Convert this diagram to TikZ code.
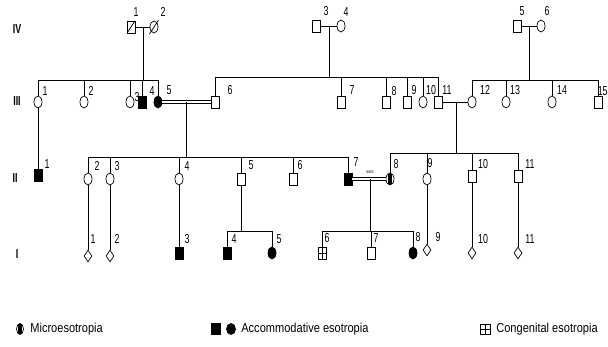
\documentclass[tikz,border=0pt]{standalone}
\usepackage{fontspec}
\setmainfont{Liberation Sans}[FakeStretch=0.85]
\newfontfamily\numfont{Liberation Sans}[FakeStretch=0.68]
\usetikzlibrary{shapes.geometric}
\begin{document}
\begin{tikzpicture}[x=1pt,y=-1pt, line width=0.7pt,
  male/.style={draw, rectangle, minimum width=8pt, minimum height=12pt, inner sep=0pt},
  female/.style={draw, ellipse, minimum width=8pt, minimum height=12pt, inner sep=0pt},
  unk/.style={draw, diamond, minimum width=8pt, minimum height=12pt, inner sep=0pt},
  aff/.style={fill=black},
  micro/.style={path picture={\fill[black] ([xshift=-1.6pt]path picture bounding box.south) rectangle ([xshift=1.6pt]path picture bounding box.north);}},
  cong/.style={path picture={\draw (path picture bounding box.north) -- (path picture bounding box.south) (path picture bounding box.west) -- (path picture bounding box.east);}},
  dec/.style={path picture={\draw (path picture bounding box.south west) -- (path picture bounding box.north east);}},
  lab/.style={font=\numfont\fontsize{13}{14}\selectfont, inner sep=0pt},
  gen/.style={font=\numfont\bfseries\fontsize{13}{14}\selectfont, inner sep=0pt},
  leg/.style={font=\fontsize{13}{14}\selectfont, inner sep=0pt, anchor=west},
  cons/.style={double, double distance=2.4pt, line width=0.7pt}]
\useasboundingbox (0,0) rectangle (608,347);

% generation labels
\node[gen] (gIV) at (17,29) {IV};
\node[gen] (gIII) at (17,101) {III};
\node[gen] (gII) at (15,178) {II};
\node[gen] (gI) at (17,254) {I};

% ---------- Generation IV ----------
\node[male, dec] (IV1) at (131,27) {};
\node[female] (IV2) at (154,27) {};
\draw ([shift={(-4.5,7)}]IV2.center) -- ([shift={(4.5,-7)}]IV2.center);
\node[male] (IV3) at (316,26) {};
\node[female] (IV4) at (341,26) {};
\node[male] (IV5) at (517,26) {};
\node[female] (IV6) at (541,26) {};
\draw (IV1) -- (IV2);
\draw (IV3) -- (IV4);
\draw (IV5) -- (IV6);
\coordinate (m1) at (143,27);
\coordinate (m3) at (329,26);
\coordinate (m4) at (529,26);
\coordinate (sIIIa) at (143,80);
\coordinate (sIIIb) at (329,77);
\coordinate (sIIIc) at (529,80);
\draw (m1) -- (sIIIa);
\draw (m3) -- (sIIIb);
\draw (m4) -- (sIIIc);

\node[lab] (lIV1) at (136,12) {1};
\node[lab] (lIV2) at (163,12) {2};
\node[lab] (lIV3) at (326,11) {3};
\node[lab] (lIV4) at (346,12) {4};
\node[lab] (lIV5) at (522,11) {5};
\node[lab] (lIV6) at (547,11) {6};

% ---------- Generation III ----------
\node[female] (III1) at (38,102) {};
\node[female] (III2) at (84,102) {};
\node[female] (III3) at (130,102) {};
\node[male, aff] (III4) at (142,102) {};
\node[female, aff] (III5) at (158,102) {};
\node[male] (III6) at (215,102) {};
\node[male] (III7) at (341,102) {};
\node[male] (III8) at (386,102) {};
\node[male] (III9) at (407,102) {};
\node[female] (III10) at (423,102) {};
\node[male] (III11) at (438,102) {};
\node[female] (III12) at (472,102) {};
\node[female] (III13) at (506,102) {};
\node[female] (III14) at (552,102) {};
\node[male] (III15) at (598,102) {};

\foreach \c in {III1,III2,III3,III4,III5} \draw (\c.north) |- (sIIIa);
\foreach \c in {III6,III7,III8,III9,III10,III11} \draw (\c.north) |- (sIIIb);
\foreach \c in {III12,III13,III14,III15} \draw (\c.north) |- (sIIIc);

\draw[cons] (III5) -- (III6);
\draw (III11) -- (III12);

\node[lab] (lIII1) at (45,91) {1};
\node[lab] (lIII2) at (91,91) {2};
\node[lab] (lIII3) at (137,97) {3};
\node[lab] (lIII4) at (152,91) {4};
\node[lab] (lIII5) at (169,90) {5};
\node[lab] (lIII6) at (230,90) {6};
\node[lab] (lIII7) at (352,90) {7};
\node[lab] (lIII8) at (394,91) {8};
\node[lab] (lIII9) at (414,90) {9};
\node[lab] (lIII10) at (431,90) {10};
\node[lab] (lIII11) at (447,90) {11};
\node[lab] (lIII12) at (485,90) {12};
\node[lab] (lIII13) at (515,90) {13};
\node[lab] (lIII14) at (562,90) {14};
\node[lab, anchor=east] (lIII15) at (608,91) {15};

% ---------- Generation II ----------
\coordinate (m2) at (186,102);
\coordinate (m5) at (456,102);
\coordinate (sIIa) at (186,157);
\coordinate (sIIb) at (456,153);
\draw (m2) -- (sIIa);
\draw (m5) -- (sIIb);

\node[male, aff] (II1) at (38,175) {};
\node[female] (II2) at (88,179) {};
\node[female] (II3) at (110,179) {};
\node[female] (II4) at (179,179) {};
\node[male] (II5) at (241,179) {};
\node[male] (II6) at (293,179) {};
\node[male, aff] (II7) at (348,179) {};
\node[female, micro] (II8) at (390,179) {};
\node[female] (II9) at (427,179) {};
\node[male] (II10) at (472,176) {};
\node[male] (II11) at (518,176) {};

\draw (III1) -- (II1);
\foreach \c in {II2,II3,II4,II5,II6,II7} \draw (\c.north) |- (sIIa);
\foreach \c in {II8,II9,II10,II11} \draw (\c.north) |- (sIIb);
\draw[cons] (II7) -- (II8);
\node[font=\numfont\fontsize{5}{6}\selectfont, inner sep=0pt] (cnote) at (370,172) {ooss};

\node[lab] (lII1) at (47,164) {1};
\node[lab] (lII2) at (97,166) {2};
\node[lab] (lII3) at (117,166) {3};
\node[lab] (lII4) at (187,166) {4};
\node[lab] (lII5) at (251,165) {5};
\node[lab] (lII6) at (300,165) {6};
\node[lab] (lII7) at (356,162) {7};
\node[lab] (lII8) at (396,164) {8};
\node[lab] (lII9) at (430,163) {9};
\node[lab] (lII10) at (483,164) {10};
\node[lab] (lII11) at (530,164) {11};

% ---------- Generation I ----------
\coordinate (m6) at (370,179);
\coordinate (sIa) at (241,231);
\coordinate (sIb) at (370,231);
\draw (m6) -- (sIb);

\node[unk] (I1) at (88,256) {};
\node[unk] (I2) at (110,256) {};
\node[male, aff] (I3) at (179,253) {};
\node[male, aff] (I4) at (227,253) {};
\node[female, aff] (I5) at (272,253) {};
\node[male, cong] (I6) at (322,253) {};
\node[male] (I7) at (371,253) {};
\node[female, aff] (I8) at (413,253) {};
\node[unk] (I9) at (427,250) {};
\node[unk] (I10) at (472,253) {};
\node[unk] (I11) at (518,253) {};

\draw (II2) -- (I1);
\draw (II3) -- (I2);
\draw (II4) -- (I3);
\draw (II5) -- (sIa);
\foreach \c in {I4,I5} \draw (\c.north) |- (sIa);
\foreach \c in {I6,I7,I8} \draw (\c.north) |- (sIb);
\draw (II9) -- (I9);
\draw (II10) -- (I10);
\draw (II11) -- (I11);

\node[lab] (lI1) at (93,239) {1};
\node[lab] (lI2) at (117,239) {2};
\node[lab] (lI3) at (187,239) {3};
\node[lab] (lI4) at (234,239) {4};
\node[lab] (lI5) at (279,239) {5};
\node[lab] (lI6) at (327,238) {6};
\node[lab] (lI7) at (376,238) {7};
\node[lab] (lI8) at (418,237) {8};
\node[lab] (lI9) at (438,237) {9};
\node[lab] (lI10) at (483,239) {10};
\node[lab] (lI11) at (530,239) {11};

% ---------- Legend ----------
\node[female, micro, minimum width=7pt, minimum height=11pt] (L1) at (20,329) {};
\node[leg] (L1t) at (30,329) {Microesotropia};
\node[male, aff, minimum width=9pt, minimum height=11pt] (L2a) at (216,329) {};
\node[female, aff, minimum width=9pt, minimum height=11pt] (L2b) at (231,329) {};
\node[leg] (L2t) at (241,329) {Accommodative esotropia};
\node[male, cong, minimum width=10pt, minimum height=10pt] (L3) at (485,329) {};
\node[leg] (L3t) at (496,329) {Congenital esotropia};
\end{tikzpicture}
\end{document}
